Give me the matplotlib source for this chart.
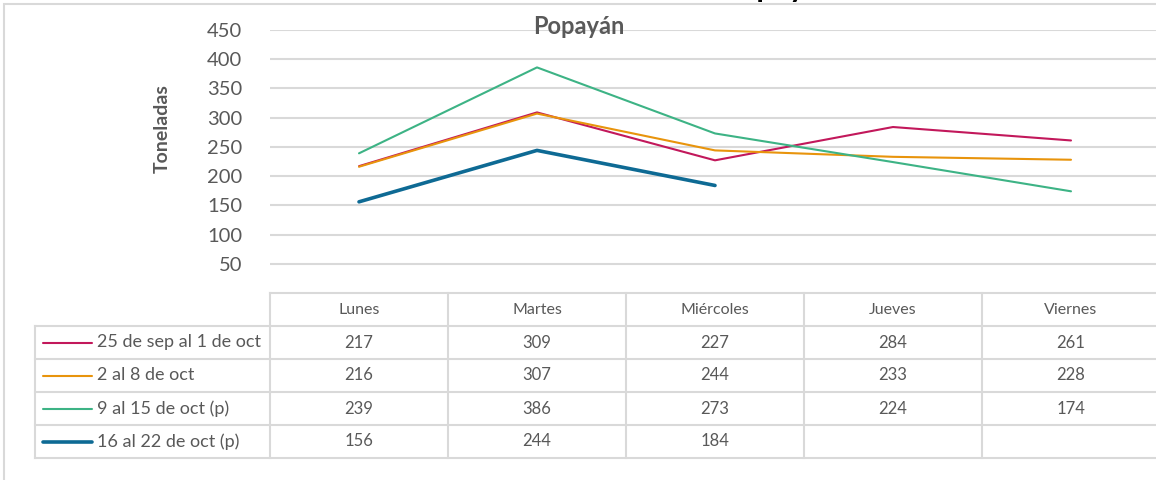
import matplotlib
matplotlib.use("Agg")
import matplotlib.pyplot as plt
from matplotlib.lines import Line2D
from matplotlib.patches import Rectangle
from matplotlib.transforms import blended_transform_factory

# data
dias = ["Lunes", "Martes", "Miércoles", "Jueves", "Viernes"]
semanas = ["25 de sep al 1 de oct", "2 al 8 de oct", "9 al 15 de oct (p)", "16 al 22 de oct (p)"]
sem_25sep = [217, 309, 227, 284, 261]
sem_2oct = [216, 307, 244, 233, 228]
sem_9oct = [239, 386, 273, 224, 174]
sem_16oct = [156, 244, 184]
yticks = [50, 100, 150, 200, 250, 300, 350, 400, 450]

series = [sem_25sep, sem_2oct, sem_9oct, sem_16oct]
colores = ["#C2185B", "#E8940C", "#3DB385", "#0E6A94"]
grosores = [1.5, 1.5, 1.5, 2.6]

plt.rcParams["font.family"] = ["Lato", "DejaVu Sans"]
W, H = 1156, 480
fig = plt.figure(figsize=(W / 100, H / 100), dpi=100)

def fx(px):
    return px / W

def fy(py):
    return 1 - py / H

# axes: 0 at y=293, 450 at y=30, columns 178 px wide starting at x=270
ax = fig.add_axes([fx(270), fy(293), fx(890), fy(30) - fy(293)])
ax.set_ylim(0, 450)
ax.set_xlim(-0.5, len(dias) - 0.5)
for s in ax.spines.values():
    s.set_visible(False)
ax.set_yticks(yticks)
ax.set_yticklabels([str(v) for v in yticks], fontsize=14.5, color="#595959")
ax.tick_params(axis="y", length=0, pad=20)
ax.set_xticks([])
ax.grid(axis="y", color="#D9D9D9", linewidth=1.5)
ax.set_axisbelow(True)
ax.set_ylabel("Toneladas", fontsize=14, fontweight="bold", color="#595959")
ax.yaxis.set_label_coords(-0.112, 0.627)

for vals, c, lw in zip(series, colores, grosores):
    ax.plot(range(len(vals)), vals, color=c, linewidth=lw, solid_capstyle="round")

# chart titles
fig.text(fx(579), fy(27), "Popayán", ha="center", va="center", fontsize=17,
         fontweight="bold", color="#595959")
fig.text(fx(779), fy(-3), "Popayán", ha="center", va="baseline", fontsize=22,
         fontweight="bold", color="black")

# outer frame
fig.add_artist(Rectangle((fx(4), fy(600)), fx(1200), fy(4) - fy(600),
                         transform=fig.transFigure, fill=False,
                         edgecolor="#D9D9D9", linewidth=1.5))

# data table below the plot
grid_c = "#D9D9D9"
tb = blended_transform_factory(ax.transData, fig.transFigure)
top, row_h = 293, 33
n_rows = len(semanas)
bottom = top + row_h * (n_rows + 1)

for i in range(len(dias) + 1):
    xv = i - 0.5
    fig.add_artist(Line2D([xv, xv], [fy(top), fy(bottom)], transform=tb,
                          color=grid_c, linewidth=1.5))
fig.add_artist(Line2D([fx(35), fx(35)], [fy(top + row_h), fy(bottom)],
                      transform=fig.transFigure, color=grid_c, linewidth=1.5))
fig.add_artist(Line2D([fx(270), fx(1200)], [fy(top), fy(top)],
                      transform=fig.transFigure, color=grid_c, linewidth=1.5))
for r in range(1, n_rows + 2):
    yy = fy(top + r * row_h)
    fig.add_artist(Line2D([fx(35), fx(1200)], [yy, yy],
                          transform=fig.transFigure, color=grid_c, linewidth=1.5))

for i, d in enumerate(dias):
    fig.text(i, fy(top + row_h / 2), d, transform=tb, ha="center", va="center",
             fontsize=11.5, color="#595959")

for r, (nombre, vals, c, lw) in enumerate(zip(semanas, series, colores, grosores)):
    yc = fy(top + (r + 1.5) * row_h)
    fig.add_artist(Line2D([fx(43), fx(92)], [yc, yc], transform=fig.transFigure,
                          color=c, linewidth=lw, solid_capstyle="round"))
    fig.text(fx(97), yc, nombre, ha="left", va="center", fontsize=13, color="#595959")
    for i, v in enumerate(vals):
        fig.text(i, yc, str(v), transform=tb, ha="center", va="center",
                 fontsize=12, color="#595959")

fig.savefig("out.png", dpi=100)
